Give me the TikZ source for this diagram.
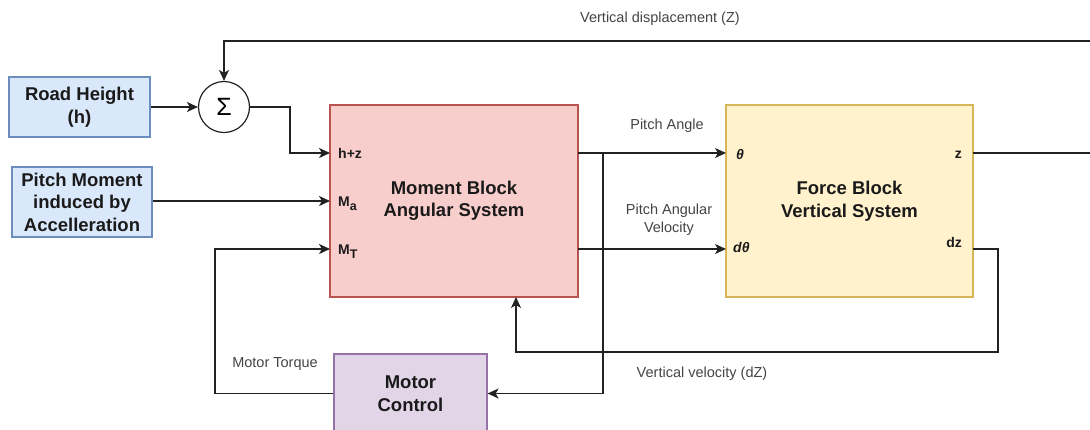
\documentclass[tikz,border=0pt]{standalone}
\usepackage{fontspec}
\setmainfont{Liberation Sans}
\usetikzlibrary{arrows.meta}

\definecolor{bluefill}{HTML}{DAE8FC}
\definecolor{bluedraw}{HTML}{6C8EBF}
\definecolor{redfill}{HTML}{F8CECC}
\definecolor{reddraw}{HTML}{B85450}
\definecolor{yellowfill}{HTML}{FFF2CC}
\definecolor{yellowdraw}{HTML}{D6B656}
\definecolor{purplefill}{HTML}{E1D5E7}
\definecolor{purpledraw}{HTML}{9673A6}
\definecolor{wiregray}{HTML}{222222}
\definecolor{labelgray}{HTML}{444444}
\definecolor{textdark}{HTML}{1A1A1A}

\newcommand\blocktext{\fontsize{18.5bp}{22.5bp}\selectfont\bfseries}
\newcommand\smalltext{\fontsize{14.5bp}{18bp}\selectfont}
\newcommand\porttext{\fontsize{14bp}{16bp}\selectfont\bfseries}
% lowered index for port names such as M_a
\newcommand\portsub[1]{\raisebox{-4bp}{\fontsize{12.5bp}{14bp}\selectfont #1}}

\begin{document}
\begin{tikzpicture}[x=1bp,y=-1bp,
  block/.style={draw, line width=1.2bp, align=center, font=\blocktext,
                text=textdark, inner sep=0pt},
  lbl/.style={font=\smalltext, text=labelgray, align=center},
  port/.style={font=\porttext, text=textdark, inner sep=0pt},
  wire/.style={draw=wiregray, line width=1.4bp},
  arr/.style={wire, -{Stealth[length=11bp,width=10bp,inset=3bp]}}]

\useasboundingbox (0,0) rectangle (1090,429);
\clip (0,0) rectangle (1090,429);

% input blocks
\node[block, fill=bluefill, draw=bluedraw, minimum width=141bp, minimum height=60bp]
  (road) at (79.5,107) {Road Height\\(h)};
\node[block, fill=bluefill, draw=bluedraw, minimum width=140bp, minimum height=70bp]
  (pitch) at (82,202) {Pitch Moment\\induced by\\Accelleration};

% summing junction
\node[draw=wiregray, line width=1.2bp, circle, minimum size=51bp, inner sep=0pt,
      font=\fontsize{25bp}{25bp}\selectfont] (sum) at (224,107) {Σ};

% main blocks
\node[block, fill=redfill, draw=reddraw, minimum width=248bp, minimum height=192bp]
  (moment) at (454,201) {Moment Block\\Angular System};
\node[block, fill=yellowfill, draw=yellowdraw, minimum width=247bp, minimum height=192bp]
  (force) at (849.5,201) {Force Block\\Vertical System};
\node[block, fill=purplefill, draw=purpledraw, minimum width=153bp, minimum height=79bp]
  (motor) at (410.5,393.5) {Motor\\Control};

% port positions
\coordinate (inHZ) at (330,153);
\coordinate (inMA) at (330,201);
\coordinate (inMT) at (330,249);
\coordinate (outTh) at (578,153);
\coordinate (outDTh) at (578,249);
\coordinate (inTh) at (726,153);
\coordinate (inDTh) at (726,249);
\coordinate (outZ) at (973,153);
\coordinate (outDZ) at (973,249);
\coordinate (inBottom) at (516,297);
\coordinate (branch) at (603,153);

% port labels
\node[port, anchor=base west] (lHZ) at (338,158) {h+z};
\node[port, anchor=base west] (lMA) at (338,206) {M\portsub{a}};
\node[port, anchor=base west] (lMT) at (338,254) {M\portsub{T}};
\node[port, anchor=base west] (lTh) at (736,159) {\textit{θ}};
\node[port, anchor=base west] (lDTh) at (733,252) {\textit{dθ}};
\node[port, anchor=base east] (lZ) at (962,158) {z};
\node[port, anchor=base east] (lDZ) at (962,247) {dz};

% connectors
\draw[arr] (road.east |- sum.west) -- (sum.west);
\draw[arr] (sum.east) -- (290,107) -- (290,153) -- (inHZ);
\draw[arr] (pitch.east |- inMA) -- (inMA);
\draw[arr] (motor.west) -- (215,393.5) -- (215,249) -- (inMT);
\draw[arr] (outTh) -- (inTh);
\draw[arr] (outDTh) -- (inDTh);
\draw[arr] (branch) -- (603,393.5) -- (motor.east);
\draw[arr] (outDZ) -- (998,249) -- (998,352) -- (516,352) -- (inBottom);
\draw[arr] (outZ) -- (1110,153) -- (1110,41) -- (sum.north |- 0,41) -- (sum.north);

% signal labels
\node[lbl] (tVD) at (660,19) {Vertical displacement (Z)};
\node[lbl] (tPA) at (667,126) {Pitch Angle};
\node[lbl] (tPAV) at (669,220) {Pitch Angular\\Velocity};
\node[lbl] (tMT) at (275,364) {Motor Torque};
\node[lbl] (tVV) at (702,374) {Vertical velocity (dZ)};
\end{tikzpicture}
\end{document}
